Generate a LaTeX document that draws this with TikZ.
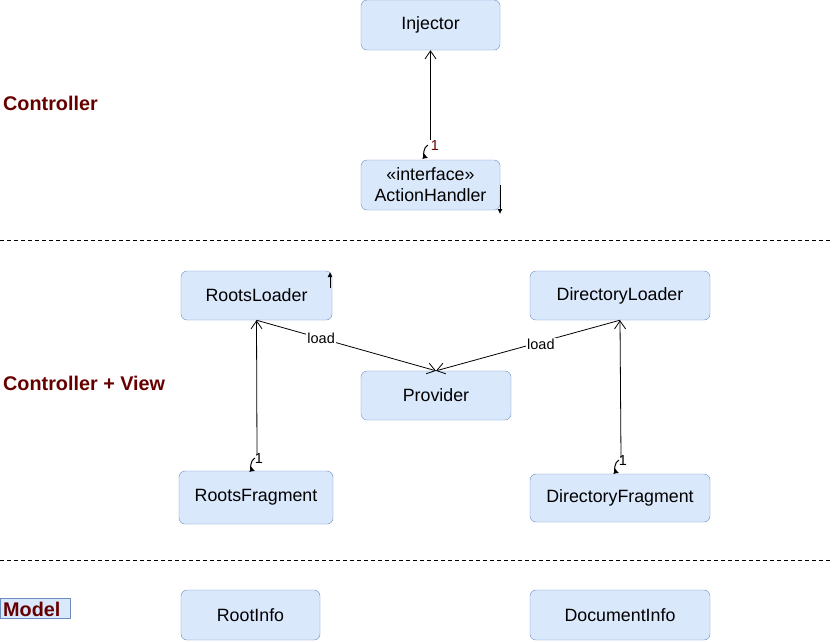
\documentclass[tikz,border=0pt]{standalone}
\usepackage{fontspec}
\setmainfont{Liberation Sans}
\usetikzlibrary{arrows.meta}
\definecolor{boxf}{HTML}{DAE8FC}
\definecolor{boxb}{HTML}{6C8EBF}
\definecolor{lbl}{HTML}{660000}
\begin{document}
\begin{tikzpicture}[x=1pt,y=-1pt,
  cls/.style={draw=boxb, fill=boxf, rounded corners=6pt, inner sep=0pt,
    font=\fontsize{17.8}{21}\selectfont, align=center},
  layer/.style={font=\bfseries\fontsize{19.8}{23}\selectfont, text=lbl, anchor=west, inner sep=0pt},
  sep/.style={dashed, line width=0.8pt, dash pattern=on 4pt off 3pt},
  assoc/.style={line width=0.8pt, -{Straight Barb[length=8pt,width=11pt,line width=0.8pt]}},
  mult/.style={font=\fontsize{14.5}{17}\selectfont, inner sep=0pt},
  curl/.style={line width=1pt, -{Latex[length=5pt,width=6pt]}},
  small/.style={font=\fontsize{14.5}{17}\selectfont, inner sep=1pt, fill=white}
]
\useasboundingbox (0,0) rectangle (832,641);

% layer separators
\coordinate (s1a) at (0,240); \coordinate (s1b) at (832,240);
\coordinate (s2a) at (0,560); \coordinate (s2b) at (832,560);
\draw[sep] (s1a) -- (s1b);
\draw[sep] (s2a) -- (s2b);

% layer labels
\node[layer] (lc) at (3,103) {Controller};
\node[layer] (lcv) at (3,383) {Controller + View};
\node[draw=boxb, fill=boxf, minimum width=70pt, minimum height=20pt, inner sep=0pt, anchor=north west] (mbox) at (0,598) {};
\node[layer] (lm) at (3,609) {Model};

% classes
\node[cls, minimum width=139pt, minimum height=50pt] (inj) at (430.5,25) {Injector};
\node[cls, minimum width=139pt, minimum height=50pt] (ah) at (430.5,185) {«interface»\\ActionHandler};
\node[cls, minimum width=151pt, minimum height=49pt] (rl) at (256.5,295.5) {RootsLoader};
\node[cls, minimum width=180pt, minimum height=49pt] (dl) at (620,295.5) {DirectoryLoader};
\node[cls, minimum width=150pt, minimum height=49pt] (pr) at (436,395.5) {Provider};
\node[cls, minimum width=154pt, minimum height=53pt] (rf) at (256,497.5) {RootsFragment};
\node[cls, minimum width=180pt, minimum height=48pt] (df) at (620,498) {DirectoryFragment};
\node[cls, minimum width=139pt, minimum height=50pt] (ri) at (250.5,615) {RootInfo};
\node[cls, minimum width=180pt, minimum height=50pt] (di) at (620,615) {DocumentInfo};

% ActionHandler -> Injector
\coordinate (ahend) at (430.5,140);
\draw[assoc] (ahend) -- (inj.south);
\draw[curl] (428,145) to[bend right=70] (428,158);
\node[mult, text=lbl] (m1) at (435,146) {1};

% RootsFragment -> RootsLoader
\coordinate (rfend) at (257,455);
\draw[assoc] (rfend) -- (rl.south);
\draw[curl] (255,458) to[bend right=70] (255,471);
\node[mult] (m2) at (259,459) {1};

% DirectoryFragment -> DirectoryLoader
\coordinate (dfend) at (621,458);
\draw[assoc] (dfend) -- (dl.south);
\draw[curl] (619,460) to[bend right=70] (619,473);
\node[mult] (m3) at (623,461) {1};

% loaders -> Provider
\draw[assoc] (rl.south) -- (pr.north) node[small, pos=0.36] (l1) {load};
\draw[assoc] (dl.south) -- (pr.north) node[small, pos=0.43, yshift=-2pt] (l2) {load};

% small self arrows
\coordinate (ahr1) at (500,185); \coordinate (ahr2) at (500,214);
\draw[line width=0.8pt, -{Latex[length=5pt,width=5pt]}] (ahr1) -- (ahr2);
\coordinate (rlr1) at (330,288); \coordinate (rlr2) at (330,272);
\draw[line width=0.8pt, -{Latex[length=5pt,width=5pt]}] (rlr1) -- (rlr2);
\end{tikzpicture}
\end{document}
